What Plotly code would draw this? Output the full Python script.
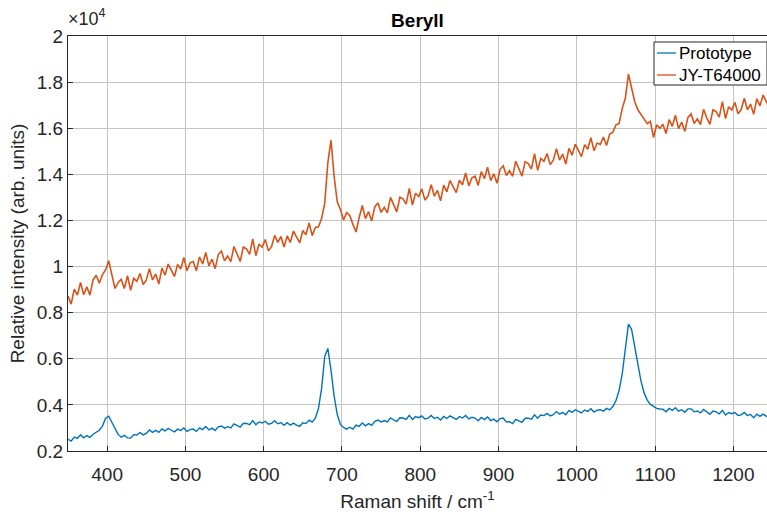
import numpy as np
import plotly.graph_objects as go

# Raman shift sample positions (cm^-1)
raman_shift = np.arange(350, 1247, 4)

# JY-T64000 intensities
jy_t64000 = [
    8720, 8370, 9020, 8760, 9310, 8780, 9120, 8760, 9420, 9620,
    9280, 9650, 9850, 10250, 9650, 9050, 9300, 9450, 9050, 9600,
    8970, 9490, 9360, 9700, 9220, 9410, 9910, 9420, 9680, 9240,
    9930, 9630, 10110, 9830, 9570, 10090, 9890, 10390, 9820, 10160,
    10220, 9820, 10420, 10110, 10610, 10030, 10320, 9910, 10520, 10670,
    10250, 10460, 10210, 10870, 10500, 10220, 10850, 10770, 10530, 11200,
    10470, 10980, 10840, 11170, 10680, 10860, 11350, 11050, 11300, 10850,
    11330, 11045, 11540, 11275, 11030, 11565, 11380, 11895, 11340, 11695,
    11720, 12080, 12750, 14520, 15480, 13900, 12800, 12480, 12020, 12340,
    12220, 11830, 11500, 12140, 12650, 12080, 12380, 11980, 12600, 12760,
    12350, 12570, 12330, 13000, 12640, 12370, 13010, 12940, 12710, 13390,
    12670, 13180, 13040, 13370, 12880, 13060, 13550, 13050, 13300, 12850,
    13530, 13240, 13730, 13460, 13210, 13740, 13550, 14060, 13500, 13850,
    13920, 13520, 14120, 13810, 14310, 13730, 14020, 13610, 14220, 14370,
    13950, 14160, 13910, 14570, 14200, 13920, 14550, 14470, 14230, 14900,
    14170, 14690, 14560, 14900, 14420, 14610, 15110, 14620, 14880, 14440,
    15130, 14830, 15310, 15030, 14770, 15290, 15090, 15590, 15020, 15360,
    15300, 15620, 15250, 15750, 15820, 16150, 16200, 16850, 17300, 18350,
    17700, 17150, 16800, 16600, 16350, 16200, 16300, 15600, 16150, 16000,
    16170, 15770, 16370, 16080, 16560, 15980, 16270, 15860, 16470, 16620,
    16200, 16410, 16160, 16820, 16450, 16170, 16800, 16720, 16480, 17150,
    16420, 16930, 16790, 17120, 16630, 16810, 17300, 16800, 17050, 16600,
    17280, 16970, 17440, 17150, 16880,
]

# Prototype intensities
prototype = [
    2510, 2430, 2605, 2550, 2700, 2575, 2670, 2590, 2725, 2825,
    2900, 3080, 3420, 3510, 3230, 2940, 2720, 2600, 2680, 2570,
    2560, 2710, 2695, 2800, 2700, 2765, 2910, 2810, 2895, 2805,
    2960, 2870, 2980, 2900, 2830, 2950, 2890, 3000, 2850, 2925,
    2950, 2850, 3005, 2930, 3060, 2915, 2990, 2890, 3045, 3085,
    2990, 3055, 3000, 3180, 3115, 3035, 3200, 3195, 3140, 3320,
    3140, 3260, 3215, 3290, 3160, 3195, 3310, 3180, 3235, 3115,
    3230, 3120, 3210, 3120, 3070, 3220, 3190, 3340, 3250, 3425,
    3850, 4720, 6100, 6450, 5500, 4380, 3580, 3150, 3020, 2950,
    3030, 2950, 3125, 3070, 3220, 3095, 3190, 3110, 3285, 3345,
    3260, 3320, 3260, 3435, 3345, 3280, 3440, 3430, 3370, 3545,
    3370, 3490, 3445, 3520, 3390, 3425, 3540, 3410, 3465, 3345,
    3500, 3410, 3520, 3440, 3370, 3490, 3430, 3540, 3390, 3465,
    3430, 3315, 3455, 3365, 3480, 3320, 3380, 3265, 3405, 3430,
    3260, 3275, 3190, 3370, 3295, 3245, 3420, 3425, 3380, 3570,
    3420, 3560, 3535, 3630, 3520, 3575, 3710, 3600, 3675, 3575,
    3760, 3675, 3790, 3715, 3650, 3775, 3720, 3835, 3690, 3770,
    3790, 3730, 3850, 3780, 3930, 4180, 4610, 5340, 6320, 7500,
    7280, 6540, 5720, 5030, 4520, 4210, 4020, 3930, 3850, 3820,
    3810, 3700, 3845, 3760, 3880, 3725, 3790, 3680, 3825, 3825,
    3700, 3735, 3650, 3800, 3685, 3595, 3730, 3695, 3610, 3760,
    3560, 3670, 3615, 3670, 3540, 3565, 3670, 3540, 3585, 3445,
    3600, 3500, 3600, 3510, 3430,
]

series_names = ["Prototype", "JY-T64000"]
series_colors = ["#0072BD", "#D95319"]

x_ticks = [400, 500, 600, 700, 800, 900, 1000, 1100, 1200]
y_tick_vals = [2000, 4000, 6000, 8000, 10000, 12000, 14000, 16000, 18000, 20000]
y_tick_text = ["0.2", "0.4", "0.6", "0.8", "1", "1.2", "1.4", "1.6", "1.8", "2"]

FONT = "Liberation Sans, Arial, Helvetica, sans-serif"
AX = "#262626"
GRID = "#c4c4c4"

fig = go.Figure()
fig.add_trace(go.Scatter(x=raman_shift, y=prototype, mode="lines", name=series_names[0],
                         line=dict(color=series_colors[0], width=1.4)))
fig.add_trace(go.Scatter(x=raman_shift, y=jy_t64000, mode="lines", name=series_names[1],
                         line=dict(color=series_colors[1], width=1.6)))

# manual legend (box, line samples, labels) in paper coordinates
W, H = 767, 512
L, R, T, B = 68, 0, 36, 61
pw, ph = W - L - R, H - T - B


def px(xp):
    return (xp - L) / pw


def py(yp):
    return (H - B - yp) / ph


shapes = [dict(type="rect", xref="paper", yref="paper", x0=px(654), x1=px(767),
               y0=py(85), y1=py(42), line=dict(color=AX, width=1), fillcolor="white",
               layer="above")]
annotations = []
for i, (nm, col) in enumerate(zip(series_names, series_colors)):
    yy = 53 + i * 22
    shapes.append(dict(type="line", xref="paper", yref="paper", x0=px(657), x1=px(676),
                       y0=py(yy), y1=py(yy), line=dict(color=col, width=1.3), layer="above"))
    annotations.append(dict(text=nm, x=px(677), y=py(yy), xref="paper", yref="paper",
                            xanchor="left", yanchor="middle", showarrow=False,
                            font=dict(size=17, color="black", family=FONT)))

annotations.append(dict(text="×10<sup>4</sup>", x=0, y=1, xref="paper", yref="paper",
                        xanchor="left", yanchor="bottom", showarrow=False, xshift=-2,
                        font=dict(size=18, color=AX, family=FONT), yshift=5))

fig.update_layout(
    width=W, height=H,
    margin=dict(l=L, r=R, t=T, b=B),
    paper_bgcolor="white", plot_bgcolor="white",
    font=dict(family=FONT, size=19, color=AX),
    title=dict(text="<b>Beryll</b>", x=px(417.5), xref="paper", xanchor="center",
               y=1 - 20 / H, yref="container", yanchor="middle",
               font=dict(size=19, color="black")),
    showlegend=False,
    xaxis=dict(range=[350, 1243], tickvals=x_ticks, showgrid=True, gridcolor=GRID,
               gridwidth=1, showline=True, linecolor=AX, linewidth=1, mirror=True,
               ticks="inside", ticklen=5, tickcolor=AX, zeroline=False,
               ticklabelstandoff=6,
               title=dict(text="Raman shift / cm<sup>-1</sup>", standoff=10,
                          font=dict(size=19, color=AX))),
    yaxis=dict(range=[2000, 20000], tickvals=y_tick_vals, ticktext=y_tick_text,
               showgrid=True, gridcolor=GRID, gridwidth=1, showline=True, linecolor=AX,
               linewidth=1, mirror=True, ticks="inside", ticklen=5, tickcolor=AX,
               zeroline=False,
               title=dict(text="Relative intensity (arb. units)", standoff=7,
                          font=dict(size=19, color=AX))),
    shapes=shapes,
    annotations=annotations,
)

fig.write_html("out.html", config={"displayModeBar": False},
               post_script="document.body.style.margin='0px';")
